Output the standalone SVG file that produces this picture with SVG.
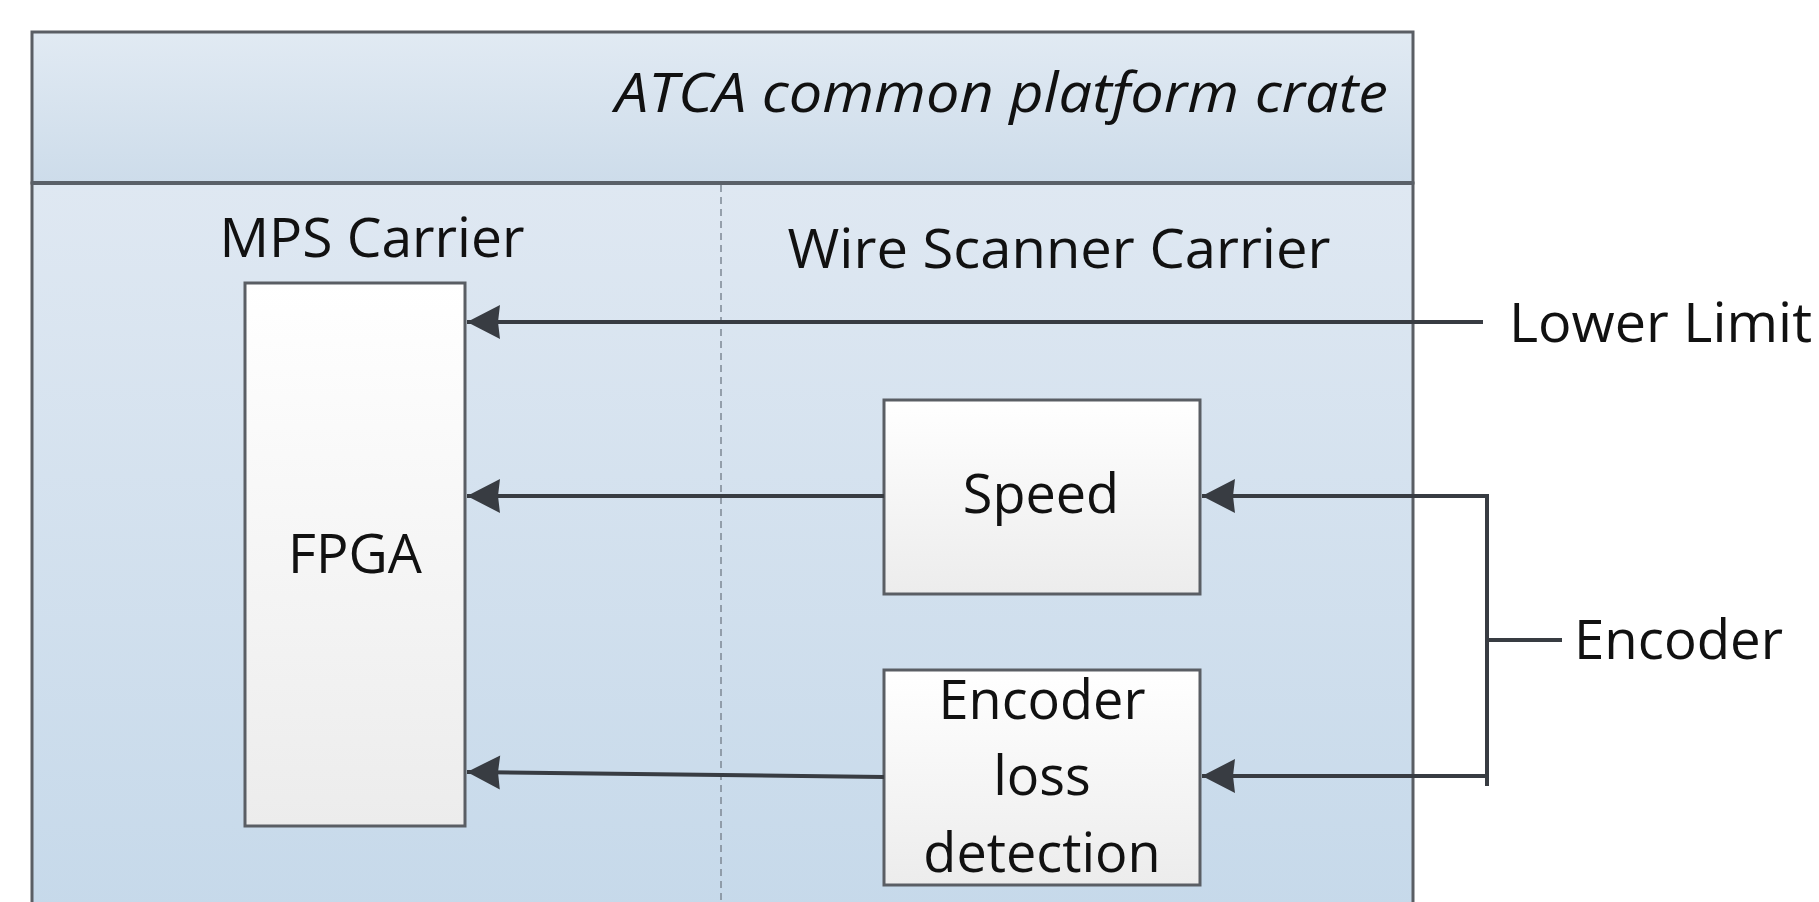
<svg xmlns="http://www.w3.org/2000/svg" width="1819" height="902" viewBox="0 0 1819 902">
<defs>
<linearGradient id="hdr" x1="0" y1="0" x2="0" y2="1"><stop offset="0" stop-color="#e1eaf3"/><stop offset="1" stop-color="#cddcea"/></linearGradient>
<linearGradient id="body" x1="0" y1="0" x2="0" y2="1"><stop offset="0" stop-color="#dfe8f2"/><stop offset="1" stop-color="#c6d9ea"/></linearGradient>
<linearGradient id="box" x1="0" y1="0" x2="0" y2="1"><stop offset="0" stop-color="#ffffff"/><stop offset="1" stop-color="#ececec"/></linearGradient>
<marker id="ah" markerUnits="userSpaceOnUse" viewBox="0 0 36 36" refX="35" refY="18" markerWidth="36" markerHeight="36" orient="auto">
<path d="M35,18 L2,1 L4,18 L2,35 Z" fill="#383c42"/>
</marker>
<style>
.t{font-family:"Open Sans","Liberation Sans",sans-serif;font-size:54px;fill:#111;}
.bx{fill:url(#box);stroke:#5a5e64;stroke-width:3;}
.ln{fill:none;stroke:#383c42;stroke-width:4;}
</style>
</defs>
<rect width="1819" height="902" fill="#ffffff"/>
<g id="crate">
<rect x="32" y="183" width="1381" height="730" fill="url(#body)" stroke="#5a5e64" stroke-width="3"/>
<rect x="32" y="32" width="1381" height="151" fill="url(#hdr)" stroke="#5a5e64" stroke-width="3"/>
<line x1="32" y1="183" x2="1413" y2="183" stroke="#5a6068" stroke-width="4"/>
<text class="t" x="1388" y="112" text-anchor="end" font-style="italic" font-size="57" textLength="773" lengthAdjust="spacingAndGlyphs">ATCA common platform crate</text>
<line x1="721" y1="185" x2="721" y2="902" stroke="#7d8894" stroke-width="1.5" stroke-dasharray="7,5"/>
</g>
<g id="mps">
<text class="t" x="372" y="257" text-anchor="middle" textLength="305" lengthAdjust="spacingAndGlyphs">MPS Carrier</text>
</g>
<g id="wsc">
<text class="t" x="1059" y="268" text-anchor="middle" textLength="543" lengthAdjust="spacingAndGlyphs">Wire Scanner Carrier</text>
</g>
<g id="fpga">
<rect class="bx" x="245" y="283" width="220" height="543"/>
<text class="t" x="355" y="573" text-anchor="middle">FPGA</text>
</g>
<g id="speed">
<rect class="bx" x="884" y="400" width="316" height="194"/>
<text class="t" x="1041" y="513" text-anchor="middle">Speed</text>
</g>
<g id="encloss">
<rect class="bx" x="884" y="670" width="316" height="215"/>
<text class="t" x="1042" y="719" text-anchor="middle">Encoder</text>
<text class="t" x="1042" y="795" text-anchor="middle">loss</text>
<text class="t" x="1042" y="872" text-anchor="middle">detection</text>
</g>
<g id="connectors">
<line class="ln" x1="1483" y1="322" x2="467" y2="322" marker-end="url(#ah)"/>
<line class="ln" x1="884" y1="496" x2="467" y2="496" marker-end="url(#ah)"/>
<line class="ln" x1="884" y1="777" x2="467" y2="772" marker-end="url(#ah)"/>
<line class="ln" x1="1487" y1="496" x2="1202" y2="496" marker-end="url(#ah)"/>
<line class="ln" x1="1487" y1="776" x2="1202" y2="776" marker-end="url(#ah)"/>
<line class="ln" x1="1487" y1="494" x2="1487" y2="786"/>
<line class="ln" x1="1487" y1="640" x2="1562" y2="640"/>
</g>
<g id="labels">
<text class="t" x="1509" y="342" textLength="303" lengthAdjust="spacingAndGlyphs">Lower Limit</text>
<text class="t" x="1574" y="659" textLength="209" lengthAdjust="spacingAndGlyphs">Encoder</text>
</g>
</svg>
